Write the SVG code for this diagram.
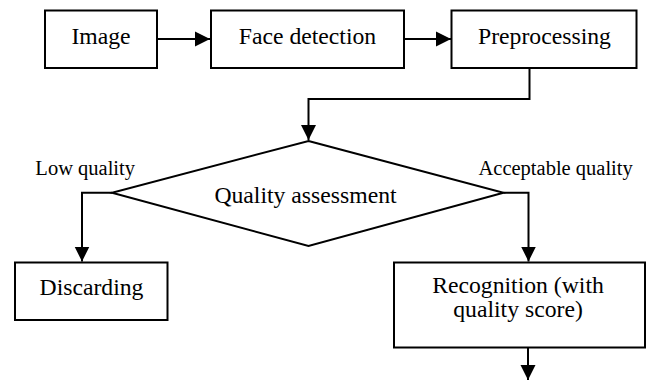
<svg xmlns="http://www.w3.org/2000/svg" width="647" height="380" viewBox="0 0 647 380">
<style>
  .box{fill:#fff;stroke:#000;stroke-width:2}
  .t{font-family:'Liberation Serif','Tinos','Times New Roman','DejaVu Serif',serif;font-size:23.7px;fill:#000;text-anchor:middle}
  .l{font-family:'Liberation Serif','Tinos','Times New Roman','DejaVu Serif',serif;font-size:20.5px;fill:#000}
  .c{fill:none;stroke:#000;stroke-width:2}
</style>
<defs>
  <marker id="ah" markerUnits="userSpaceOnUse" markerWidth="16" markerHeight="16" viewBox="0 0 16 16" refX="15" refY="8" orient="auto">
    <path d="M0,0.5 L15,8 L0,15.5 Z" fill="#000"/>
  </marker>
</defs>
<g id="connectors">
  <path class="c" d="M157,39 H210" marker-end="url(#ah)"/>
  <path class="c" d="M404,39 H451" marker-end="url(#ah)"/>
  <path class="c" d="M529.5,68 V99 H308.5 V140" marker-end="url(#ah)"/>
  <path class="c" d="M112,192.7 H82 V261.5" marker-end="url(#ah)"/>
  <path class="c" d="M503.5,192.7 H528.5 V261.5" marker-end="url(#ah)"/>
  <path class="c" d="M528,347.5 V380" marker-end="url(#ah)"/>
</g>
<g id="image">
  <rect class="box" x="45" y="10.5" width="112" height="57.5"/>
  <text class="t" x="101" y="43.5">Image</text>
</g>
<g id="face-detection">
  <rect class="box" x="211" y="10.5" width="193" height="57.5"/>
  <text class="t" x="307.5" y="43.5">Face detection</text>
</g>
<g id="preprocessing">
  <rect class="box" x="451.5" y="10.5" width="185" height="57.5"/>
  <text class="t" x="544.5" y="43.5">Preprocessing</text>
</g>
<g id="quality-assessment">
  <polygon class="box" points="308.5,141 503.5,192.7 308.5,246 112,192.7"/>
  <text class="t" x="305.5" y="202.5">Quality assessment</text>
</g>
<g id="labels">
  <text class="l" x="135" y="175" text-anchor="end">Low quality</text>
  <text class="l" x="478.5" y="175">Acceptable quality</text>
</g>
<g id="discarding">
  <rect class="box" x="15" y="262.5" width="152.5" height="57.5"/>
  <text class="t" x="91.5" y="295">Discarding</text>
</g>
<g id="recognition">
  <rect class="box" x="394" y="262.5" width="251" height="85"/>
  <text class="t" x="518" y="292.5">Recognition (with</text>
  <text class="t" x="518" y="317">quality score)</text>
</g>
</svg>
